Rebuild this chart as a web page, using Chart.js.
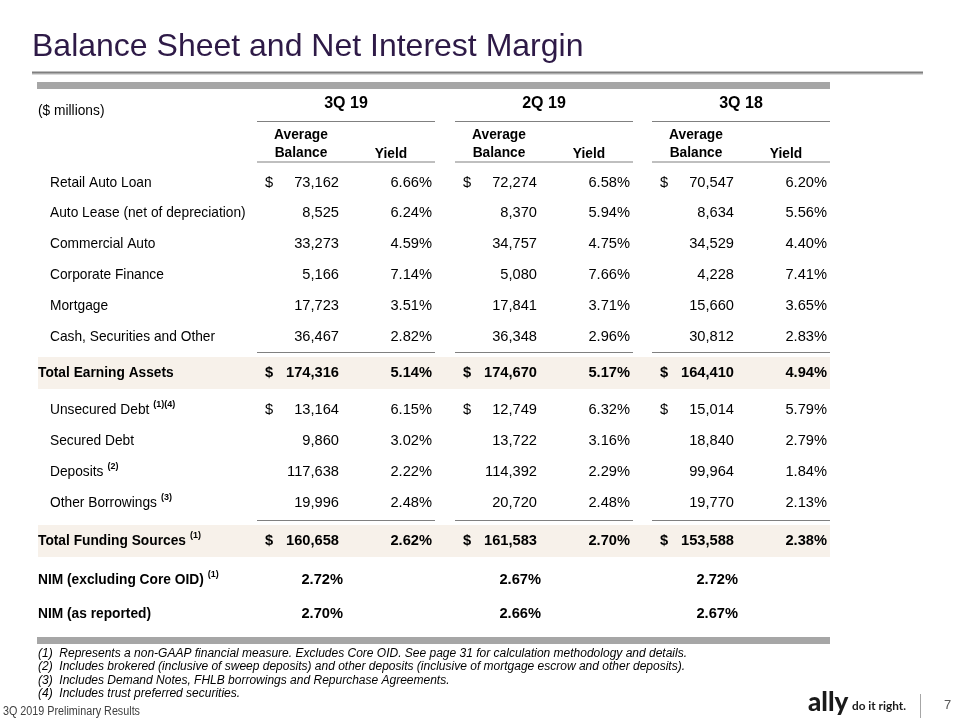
<!DOCTYPE html>
<html>
<head>
<meta charset="utf-8">
<script src="https://cdn.jsdelivr.net/npm/chart.js@4.4.0/dist/chart.umd.min.js"></script>
<style>
  html, body { margin: 0; padding: 0; background: #fff; }
  canvas { display: block; }
</style>
</head>
<body>
<canvas id="myChart" width="960" height="720"></canvas>
<script>
  const periods = ['3Q 19', '2Q 19', '3Q 18'];

  const rowLabels = [
    'Retail Auto Loan',
    'Auto Lease (net of depreciation)',
    'Commercial Auto',
    'Corporate Finance',
    'Mortgage',
    'Cash, Securities and Other',
    'Total Earning Assets',
    'Unsecured Debt',
    'Secured Debt',
    'Deposits',
    'Other Borrowings',
    'Total Funding Sources',
  ];
  const rowNotes = ['', '', '', '', '', '', '', '(1)(4)', '', '(2)', '(3)', '(1)'];

  const balance3Q19 = [73162, 8525, 33273, 5166, 17723, 36467, 174316, 13164, 9860, 117638, 19996, 160658];
  const yield3Q19 = [6.66, 6.24, 4.59, 7.14, 3.51, 2.82, 5.14, 6.15, 3.02, 2.22, 2.48, 2.62];
  const balance2Q19 = [72274, 8370, 34757, 5080, 17841, 36348, 174670, 12749, 13722, 114392, 20720, 161583];
  const yield2Q19 = [6.58, 5.94, 4.75, 7.66, 3.71, 2.96, 5.17, 6.32, 3.16, 2.29, 2.48, 2.70];
  const balance3Q18 = [70547, 8634, 34529, 4228, 15660, 30812, 164410, 15014, 18840, 99964, 19770, 153588];
  const yield3Q18 = [6.20, 5.56, 4.40, 7.41, 3.65, 2.83, 4.94, 5.79, 2.79, 1.84, 2.13, 2.38];

  const nimLabels = ['NIM (excluding Core OID)', 'NIM (as reported)'];
  const nimNotes = ['(1)', ''];
  const nim3Q19 = [2.72, 2.70];
  const nim2Q19 = [2.67, 2.66];
  const nim3Q18 = [2.72, 2.67];

  const footnotes = [
    '(1)  Represents a non-GAAP financial measure. Excludes Core OID. See page 31 for calculation methodology and details.',
    '(2)  Includes brokered (inclusive of sweep deposits) and other deposits (inclusive of mortgage escrow and other deposits).',
    '(3)  Includes Demand Notes, FHLB borrowings and Repurchase Agreements.',
    '(4)  Includes trust preferred securities.',
  ];

  const balances = [balance3Q19, balance2Q19, balance3Q18];
  const yields = [yield3Q19, yield2Q19, yield3Q18];
  const nims = [nim3Q19, nim2Q19, nim3Q18];

  // layout (page units, mapped through the chart scales)
  const rowY = [183, 213, 244, 275, 306, 337, 373, 410, 441, 472, 503, 541];
  const nimY = [580, 614];
  const totalRows = [6, 11];
  const dollarRows = [0, 6, 7, 11];
  const groupLeft = [257, 455, 652];
  const groupW = 178;
  const footY = [654, 667, 681, 694];

  const FONT = '"Liberation Sans", Arial, sans-serif';

  const tablePlugin = {
    id: 'table',
    afterDraw(chart) {
      const ctx = chart.ctx;
      const xs = chart.scales.x;
      const ys = chart.scales.y;
      const X = v => xs.getPixelForValue(v);
      const Y = v => ys.getPixelForValue(v);

      function text(str, x, y, font, color, align, maxW) {
        ctx.font = font;
        ctx.fillStyle = color || '#000';
        ctx.textAlign = align || 'left';
        ctx.textBaseline = 'middle';
        if (maxW) ctx.fillText(str, X(x), Y(y), maxW);
        else ctx.fillText(str, X(x), Y(y));
      }
      function hline(x1, x2, y, w, color) {
        ctx.strokeStyle = color;
        ctx.lineWidth = w;
        ctx.beginPath();
        ctx.moveTo(X(x1), Y(y));
        ctx.lineTo(X(x2), Y(y));
        ctx.stroke();
      }
      function rect(x1, y1, x2, y2, color) {
        ctx.fillStyle = color;
        ctx.fillRect(X(x1), Y(y1), X(x2) - X(x1), Y(y2) - Y(y1));
      }
      function labelWithNote(label, note, x, y, bold) {
        const f = (bold ? 'bold ' : '') + '13.75px ' + FONT;
        text(label, x, y, f, '#000');
        if (note) {
          ctx.font = f;
          const w = ctx.measureText(label).width;
          text(note, x + w + 4, y - 5, 'bold 9px ' + FONT, '#000');
        }
      }

      ctx.save();

      // title and header bars
      text('Balance Sheet and Net Interest Margin', 32, 47, '32px ' + FONT, '#2e1a47');
      hline(32, 923, 74, 2, '#d9d9d9');
      hline(32, 923, 72.5, 2, '#7f7f7f');
      rect(37, 82, 830, 89, '#a6a6a6');
      rect(37, 637, 830, 644, '#a6a6a6');

      // shaded totals
      totalRows.forEach(i => rect(38, rowY[i] - 16, 830, rowY[i] + 16, '#f7f1ea'));

      // header
      text('($ millions)', 38, 111, '13.75px ' + FONT, '#000');
      periods.forEach((p, g) => {
        const gl = groupLeft[g];
        text(p, gl + groupW / 2, 104, 'bold 16px ' + FONT, '#000', 'center');
        hline(gl, gl + groupW, 121.5, 1.2, '#808080');
        text('Average', gl + 44, 135, 'bold 13.75px ' + FONT, '#000', 'center');
        text('Balance', gl + 44, 153, 'bold 13.75px ' + FONT, '#000', 'center');
        text('Yield', gl + 134, 154, 'bold 13.75px ' + FONT, '#000', 'center');
        hline(gl, gl + groupW, 162, 1.2, '#808080');
        totalRows.forEach(i => hline(gl, gl + groupW, rowY[i] - 20.5, 1.2, '#808080'));
      });

      // body rows
      rowLabels.forEach((label, i) => {
        const bold = totalRows.includes(i);
        labelWithNote(label, rowNotes[i], bold ? 38 : 50, rowY[i], bold);
        const vf = (bold ? 'bold ' : '') + '14.67px ' + FONT;
        periods.forEach((p, g) => {
          const gl = groupLeft[g];
          if (dollarRows.includes(i)) text('$', gl + 8, rowY[i], vf, '#000');
          text(balances[g][i].toLocaleString('en-US'), gl + 82, rowY[i], vf, '#000', 'right');
          text(yields[g][i].toFixed(2) + '%', gl + 175, rowY[i], vf, '#000', 'right');
        });
      });

      // NIM rows
      nimLabels.forEach((label, i) => {
        labelWithNote(label, nimNotes[i], 38, nimY[i], true);
        periods.forEach((p, g) => {
          text(nims[g][i].toFixed(2) + '%', groupLeft[g] + 86, nimY[i], 'bold 14.67px ' + FONT, '#000', 'right');
        });
      });

      // footnotes and footer
      footnotes.forEach((f, i) => text(f, 38, footY[i], 'italic 12px ' + FONT, '#000'));
      text('3Q 2019 Preliminary Results', 3, 712, '12px ' + FONT, '#404040', 'left', 137);
      text('ally', 808, 703, '900 26px Lato, ' + FONT, '#1a1a1a');
      text('do it right.', 852, 706, 'bold 12px Lato, ' + FONT, '#1a1a1a', 'left', 54);
      ctx.fillStyle = '#a6a6a6';
      ctx.fillRect(X(920), Y(694), 1, Y(718) - Y(694));
      text('7', 944, 705, '13px ' + FONT, '#595959');

      ctx.restore();
    }
  };

  const config = {
    type: 'scatter',
    data: { datasets: [{ data: [] }] },
    options: {
      responsive: false,
      animation: false,
      layout: { padding: 0 },
      plugins: { legend: { display: false }, tooltip: { enabled: false } },
      scales: {
        x: { type: 'linear', min: 0, max: 960, display: false },
        y: { type: 'linear', min: 0, max: 720, reverse: true, display: false }
      }
    },
    plugins: [tablePlugin]
  };

  const myChart = new Chart(document.getElementById('myChart'), config);
</script>
</body>
</html>
